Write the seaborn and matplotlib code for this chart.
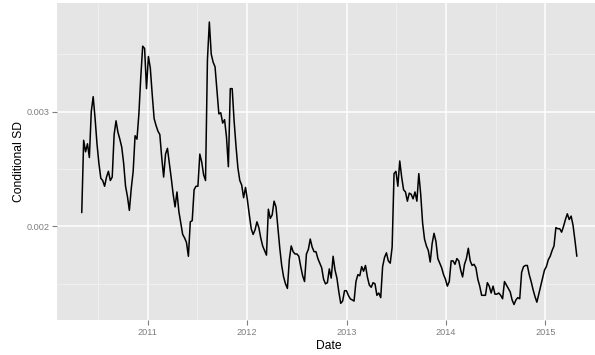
import matplotlib
matplotlib.use("Agg")
import matplotlib.pyplot as plt
import matplotlib.dates as mdates
from matplotlib.ticker import FixedLocator, FuncFormatter
import numpy as np
import pandas as pd
import seaborn as sns

# Weekly conditional standard deviation (in units of 1e-4), starting 2010-05-03
start_date = "2010-05-03"
sd_e4 = [
    21.2, 27.5, 26.5, 27.2, 26.0, 30.0, 31.3, 29.4, 27.2, 25.5,
    24.2, 24.0, 23.5, 24.3, 24.8, 24.0, 24.3, 28.0, 29.2, 28.2,
    27.6, 26.9, 25.5, 23.5, 22.6, 21.4, 23.3, 24.8, 27.9, 27.6,
    29.8, 33.0, 35.7, 35.5, 32.0, 34.8, 33.8, 31.5, 29.4, 28.8,
    28.3, 28.0, 26.0, 24.3, 26.3, 26.8, 25.5, 24.2, 22.8, 21.7,
    23.0, 21.3, 20.3, 19.3, 19.0, 18.6, 17.4, 20.4, 20.5, 23.2,
    23.5, 23.5, 26.3, 25.6, 24.5, 24.0, 34.5, 37.8, 35.0, 34.3,
    33.9, 31.8, 29.8, 29.9, 29.0, 29.3, 27.8, 25.2, 32.0, 32.0,
    29.2, 27.0, 25.1, 24.0, 23.6, 22.5, 23.4, 22.3, 21.0, 19.8,
    19.3, 19.7, 20.4, 19.9, 19.0, 18.3, 17.9, 17.5, 21.5, 20.7,
    21.0, 22.2, 21.7, 19.9, 18.1, 16.6, 15.6, 15.0, 14.6, 17.1,
    18.3, 17.8, 17.6, 17.6, 17.4, 16.5, 15.7, 15.2, 17.6, 18.0,
    18.9, 18.2, 17.8, 17.8, 17.2, 16.8, 16.4, 15.4, 15.0, 15.1,
    16.3, 15.5, 17.4, 16.2, 15.5, 14.3, 13.3, 13.5, 14.4, 14.4,
    14.0, 13.7, 13.6, 13.5, 15.2, 15.8, 15.7, 16.5, 16.1, 16.6,
    15.6, 14.9, 14.7, 15.1, 15.0, 14.0, 14.2, 13.8, 16.5, 17.3,
    17.7, 17.0, 16.8, 18.2, 24.6, 24.8, 23.5, 25.7, 24.3, 23.2,
    23.0, 22.2, 22.9, 22.8, 22.4, 23.0, 22.2, 24.6, 22.8, 20.3,
    18.9, 18.3, 17.9, 16.9, 18.5, 19.4, 18.7, 17.2, 16.8, 16.4,
    15.8, 15.4, 14.8, 15.2, 17.0, 17.0, 16.7, 17.2, 17.0, 16.2,
    15.6, 16.7, 17.2, 18.1, 17.0, 16.6, 16.7, 16.4, 15.4, 14.8,
    14.0, 14.0, 14.0, 15.1, 14.8, 14.2, 14.8, 14.1, 14.1, 14.2,
    14.0, 13.7, 15.2, 14.9, 14.6, 14.3, 13.6, 13.2, 13.6, 13.8,
    13.7, 16.0, 16.5, 16.6, 16.6, 15.8, 15.2, 14.5, 13.9, 13.4,
    14.1, 14.8, 15.5, 16.2, 16.5, 17.1, 17.4, 17.9, 18.3, 19.9,
    19.8, 19.8, 19.5, 20.0, 20.6, 21.1, 20.6, 20.9, 20.1, 18.8,
    17.4,
]
y_ticks = [0.002, 0.003]
y_minor = [0.0015, 0.0025, 0.0035]
x_years = ["2011", "2012", "2013", "2014", "2015"]
x_minor_years = ["2010", "2011", "2012", "2013", "2014", "2015"]

dates = pd.date_range(start_date, periods=len(sd_e4), freq="7D")
df = pd.DataFrame({"Date": dates, "Conditional SD": np.array(sd_e4) * 1e-4})

sns.set_theme(style="darkgrid", rc={
    "axes.facecolor": "#E5E5E5",
    "grid.color": "white",
    "axes.edgecolor": "#E5E5E5",
})
plt.rcParams["font.family"] = ["Liberation Sans", "DejaVu Sans"]

fig = plt.figure(figsize=(5.95, 3.55), dpi=100)
W, H = 595, 355
ax = fig.add_axes([57 / W, 1 - 320 / H, (601.6 - 57) / W, (320 - 3) / H])

sns.lineplot(data=df, x="Date", y="Conditional SD", ax=ax,
             color="black", linewidth=1.1, zorder=3)

ax.set_xlim(pd.Timestamp("2010-02-01"), pd.Timestamp("2015-07-27"))
ax.set_ylim(0.001185, 0.003946)

# major breaks at each new year, minor breaks mid-year
major_x = [mdates.date2num(pd.Timestamp(f"{y}-01-01")) for y in x_years]
minor_x = [mdates.date2num(pd.Timestamp(f"{y}-07-02")) for y in x_minor_years]
ax.xaxis.set_major_locator(FixedLocator(major_x))
ax.xaxis.set_minor_locator(FixedLocator(minor_x))
ax.xaxis.set_major_formatter(FuncFormatter(lambda v, p: mdates.num2date(v).strftime("%Y")))
ax.yaxis.set_major_locator(FixedLocator(y_ticks))
ax.yaxis.set_minor_locator(FixedLocator(y_minor))
ax.yaxis.set_major_formatter(FuncFormatter(lambda v, p: f"{v:.3f}"))

ax.grid(which="major", color="white", linewidth=1.1)
ax.grid(which="minor", color="#F2F2F2", linewidth=0.6)
ax.set_axisbelow(True)

ax.tick_params(axis="both", which="major", length=3.5, width=0.8,
               color="#7F7F7F", labelcolor="#7F7F7F", labelsize=6.6, pad=2,
               bottom=True, left=True)
ax.tick_params(axis="both", which="minor", length=0)
for s in ax.spines.values():
    s.set_visible(False)

ax.set_xlabel("Date", fontsize=8.7, color="black", labelpad=2.5)
ax.set_ylabel("Conditional SD", fontsize=8.7, color="black", labelpad=1)

fig.savefig("out.png", dpi=100, facecolor="white")
